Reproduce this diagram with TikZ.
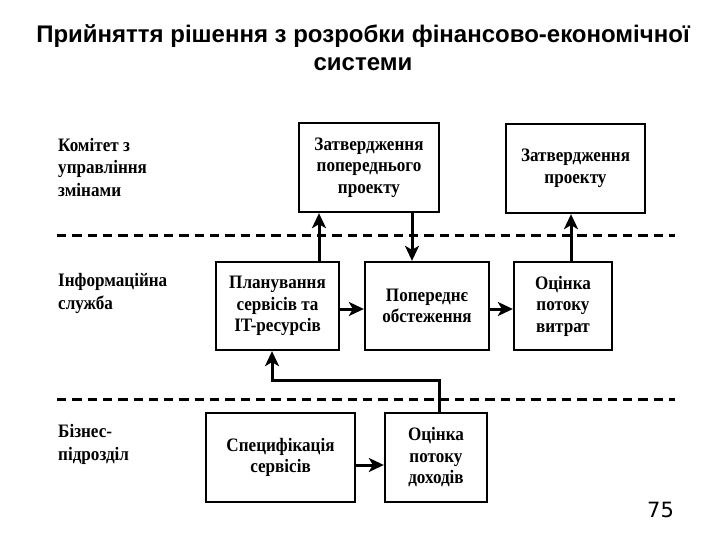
\documentclass[tikz,border=0pt]{standalone}
\usepackage{fontspec}
\setmainfont{Liberation Serif}
\newfontfamily\boxfont[FakeStretch=0.9]{Liberation Serif}
\newfontfamily\titlefont{Liberation Sans}
\newfontfamily\numfont{DejaVu Sans}
\usetikzlibrary{arrows.meta}
\begin{document}
\begin{tikzpicture}[x=1pt,y=-1pt,
  box/.style={draw, line width=2.3pt, align=center, inner sep=0pt,
    font=\boxfont\fontsize{19}{21.5}\selectfont\bfseries},
  lane/.style={align=left, anchor=base west, inner sep=0pt,
    font=\boxfont\fontsize{19}{22.5}\selectfont\bfseries},
  arr/.style={line width=3pt, -{Stealth[length=15pt,width=14pt,inset=4pt]}},
  sep/.style={line width=3pt, dash pattern=on 9.3pt off 6pt}]
\useasboundingbox (0,0) rectangle (720,540);

\node[font=\titlefont\fontsize{24}{28}\selectfont\bfseries, align=center, anchor=base] (title) at (363,71)
  {Прийняття рішення з розробки фінансово-економічної\\системи};

\node[lane] (l1) at (58,196.5) {Комітет з\\управління\\змінами};
\node[lane] (l2) at (58,309) {Інформаційна\\служба};
\node[lane] (l3) at (58,460) {Бізнес-\\підрозділ};

\node[box, minimum width=140, minimum height=89] (A) at (369,167.5) {Затвердження\\попереднього\\проекту};
\node[box, minimum width=139, minimum height=89] (B) at (575.5,168.5) {Затвердження\\проекту};
\node[box, minimum width=123, minimum height=88] (C) at (277.5,306) {Планування\\сервісів та\\IT-ресурсів};
\node[box, minimum width=124, minimum height=88] (D) at (427,306) {Попереднє\\обстеження};
\node[box, minimum width=98, minimum height=88] (E) at (563,306) {Оцінка\\потоку\\витрат};
\node[box, minimum width=149, minimum height=89] (F) at (280.5,457.5) {Специфікація\\сервісів};
\node[box, minimum width=102, minimum height=89] (G) at (436,457.5) {Оцінка\\потоку\\доходів};

\draw[sep] (57,235) -- (675,235);
\draw[sep] (57,399) -- (675,399);

\draw[arr] (C.east |- 0,309) -- (D.west |- 0,309);
\draw[arr] (D.east |- 0,309) -- (E.west |- 0,309);
\draw[arr] (F.east |- 0,465) -- (G.west |- 0,465);
\draw[arr] (C.north -| 319,0) -- (A.south -| 319,0);
\draw[arr] (A.south -| 412,0) -- (D.north -| 412,0);
\draw[arr] (E.north -| 571,0) -- (B.south -| 571,0);
\draw[arr] (G.north -| 439,0) -- (439,380) -- (272,380) -- (C.south -| 272,0);

\node[font=\numfont\fontsize{21}{24}\selectfont, anchor=base west, inner sep=0pt] (num) at (647,517) {75};
\end{tikzpicture}
\end{document}
